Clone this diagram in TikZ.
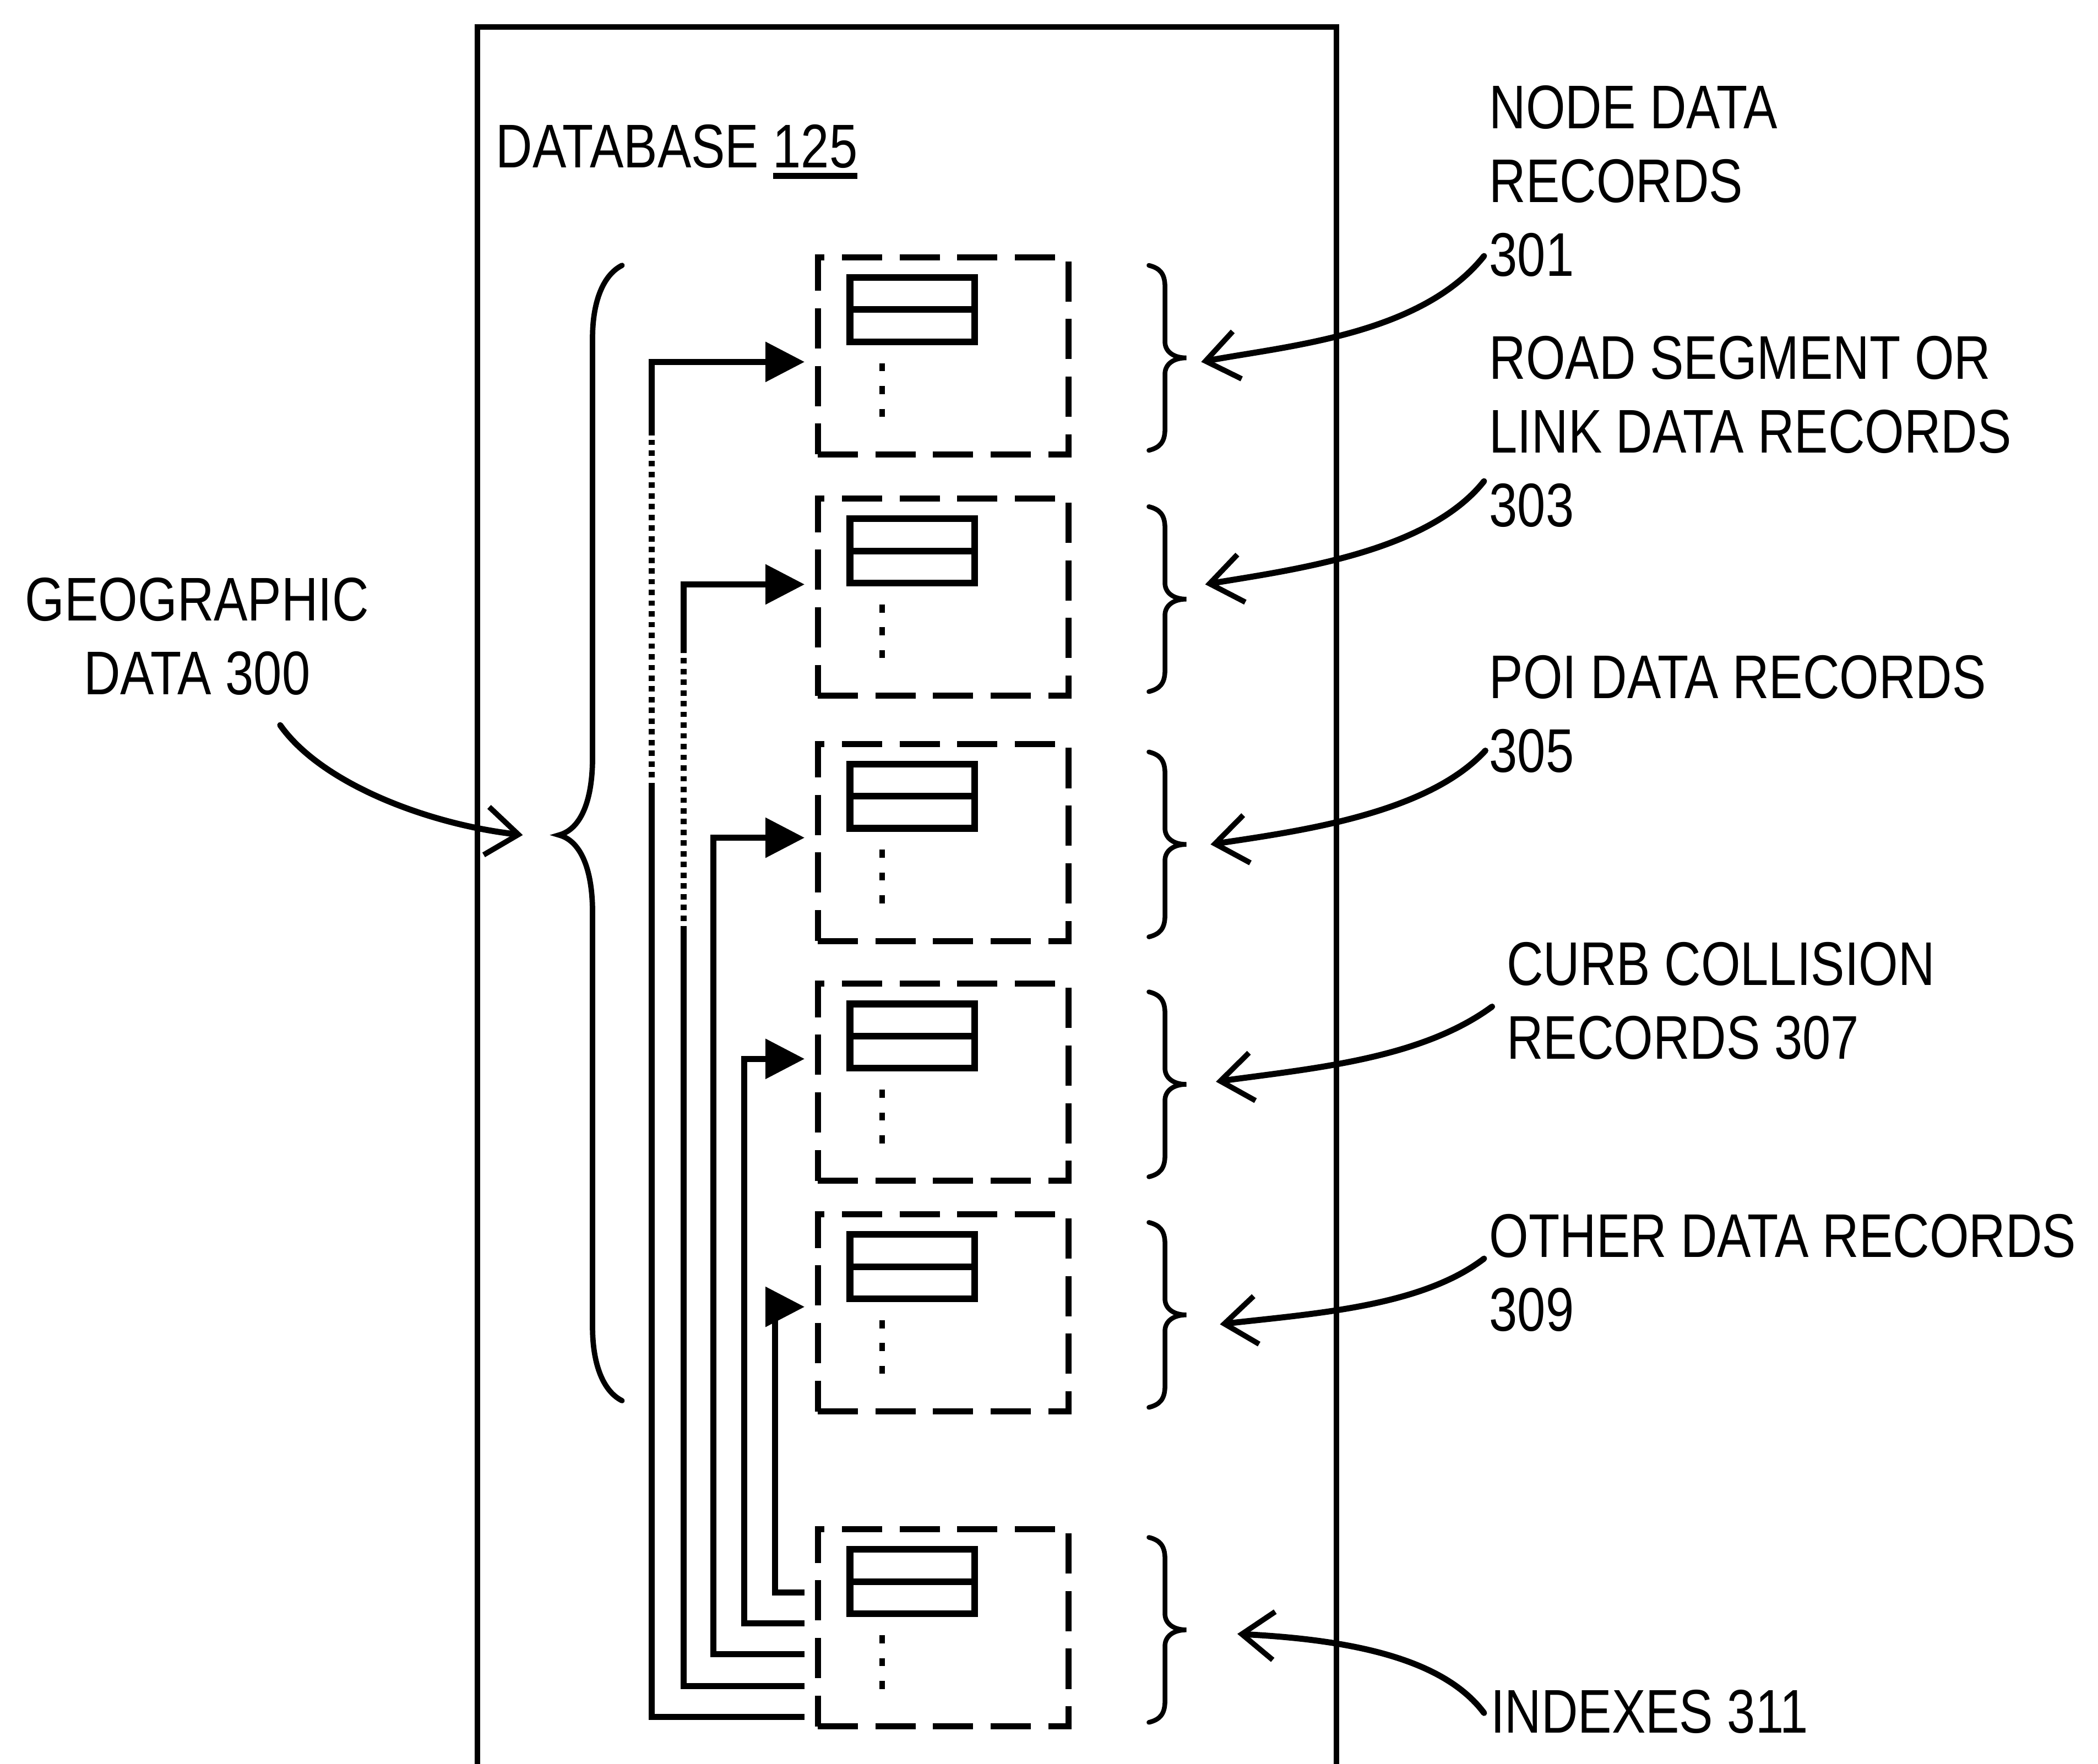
\documentclass[tikz,border=0pt]{standalone}
\usepackage{fontspec}
\setmainfont{Liberation Sans}[FakeStretch=0.822]
\usetikzlibrary{arrows.meta}
\newcommand{\myul}[1]{\setbox0\hbox{#1}\rlap{\rule[-8.5pt]{\wd0}{4.5pt}}\box0}
\begin{document}
\begin{tikzpicture}[x=1pt,y=-1pt,
  lbl/.style={anchor=base west, inner sep=0pt, outer sep=0pt, align=left, font=\fontsize{46}{55}\selectfont},
  dbline/.style={line width=4pt},
  recbox/.style={draw, line width=4.5pt, dash pattern=on 30pt off 13pt, minimum width=187pt, minimum height=147pt, inner sep=0pt, outer sep=0pt},
  fieldbox/.style={draw, line width=5pt, minimum width=93pt, minimum height=48pt, inner sep=0pt, outer sep=0pt},
  fieldline/.style={line width=5pt},
  dotsline/.style={line width=4pt, dash pattern=on 6pt off 11pt},
  brace/.style={line width=3.5pt, line cap=round},
  leader/.style={line width=4.5pt, line cap=round, -{Straight Barb[length=24pt,width=36pt,line width=4pt]}},
  conn/.style={line width=4.5pt},
  connarrow/.style={conn, -{Triangle[length=29pt,width=30pt,line width=1pt]}, shorten >=10pt},
  dotconn/.style={line width=4.5pt, dash pattern=on 4pt off 4pt},
]
\useasboundingbox (0,0) rectangle (1565,1316);

% database outline (open at the bottom)
\begin{scope}
\clip (0,0) rectangle (1565,1316);
\draw[dbline] (356,1330) |- (997,20) -- (997,1330);
\end{scope}
\node[lbl] (db) at (370,125) {DATABASE \myul{125}};

% record boxes
\foreach \n/\t in {1/192, 2/372, 3/555, 4/734, 5/906, 6/1141} {
  \node[recbox] (r\n) at (703.5, \t+73.5) {};
  \node[fieldbox] (f\n) at (680.5, \t+39) {};
  \draw[fieldline] (f\n.west) -- (f\n.east);
  \draw[dotsline] (658, \t+79) -- (658, \t+119);
  % right brace
  \draw[brace] (857, \t+6) .. controls (865,\t+8) and (869,\t+12) .. (869,\t+22)
     -- (869, \t+63) .. controls (869,\t+70) and (875,\t+75) .. (885,\t+75)
     .. controls (875,\t+75) and (869,\t+80) .. (869,\t+87)
     -- (869, \t+128) .. controls (869,\t+138) and (865,\t+142) .. (857,\t+144);
}

% left brace (geographic data)
\draw[brace, line width=4pt] (464,198) .. controls (450,205) and (442,225) .. (442,252)
   -- (442,565) .. controls (442,600) and (432,619) .. (417,623)
   .. controls (432,627) and (442,646) .. (442,681)
   -- (442,990) .. controls (442,1018) and (450,1038) .. (464,1045);

% connectors from indexes to record groups
\draw[conn, shorten <=10pt] (r6.west |- 0,1281) -| (486,588);
\draw[dotconn] (486,588) -- (486,325);
\draw[connarrow] (486,325) |- (r1.west |- 0,270);

\draw[conn, shorten <=10pt] (r6.west |- 0,1258) -| (510,695);
\draw[dotconn] (510,695) -- (510,487);
\draw[connarrow] (510,487) |- (r2.west |- 0,436);

\draw[connarrow, shorten <=10pt] (r6.west |- 0,1234) -| (532,625) -- (r3.west |- 0,625);
\draw[connarrow, shorten <=10pt] (r6.west |- 0,1211) -| (555,790) -- (r4.west |- 0,790);
\draw[connarrow, shorten <=10pt] (r6.west |- 0,1188) -| (578,975) -- (r5.west |- 0,975);

% labels (anchor = baseline of the last line)
\node[lbl] (l301) at (1111,206) {NODE DATA\\RECORDS\\301};
\node[lbl] (l303) at (1111,393) {ROAD SEGMENT OR\\LINK DATA RECORDS\\303};
\node[lbl] (l305) at (1111,576) {POI DATA RECORDS\\305};
\node[lbl] (l307) at (1124,790) {CURB COLLISION\\RECORDS 307};
\node[lbl] (l309) at (1111,993) {OTHER DATA RECORDS\\309};
\node[lbl] (l311) at (1112,1293) {INDEXES 311};
\node[lbl, align=center, anchor=base] (l300) at (147,518) {GEOGRAPHIC\\DATA 300};

% leader start / end points
\coordinate (s301) at (1107,191);  \coordinate (t301) at (896,270);
\coordinate (s303) at (1107,359);  \coordinate (t303) at (899,436);
\coordinate (s305) at (1108,560);  \coordinate (t305) at (903,630);
\coordinate (s307) at (1113,751);  \coordinate (t307) at (907,807);
\coordinate (s309) at (1107,939);  \coordinate (t309) at (910,988);
\coordinate (s311) at (1107,1278); \coordinate (t311) at (923,1219);
\coordinate (s300) at (209,541);   \coordinate (t300) at (390,623);

\draw[leader] (s301) .. controls (1060,250) and (960,258) .. (t301);
\draw[leader] (s303) .. controls (1065,412) and (965,425) .. (t303);
\draw[leader] (s305) .. controls (1065,607) and (970,620) .. (t305);
\draw[leader] (s307) .. controls (1060,790) and (980,797) .. (t307);
\draw[leader] (s309) .. controls (1060,975) and (980,980) .. (t309);
\draw[leader] (s311) .. controls (1075,1235) and (1000,1223) .. (t311);
\draw[leader] (s300) .. controls (240,585) and (320,615) .. (t300);
\end{tikzpicture}
\end{document}
